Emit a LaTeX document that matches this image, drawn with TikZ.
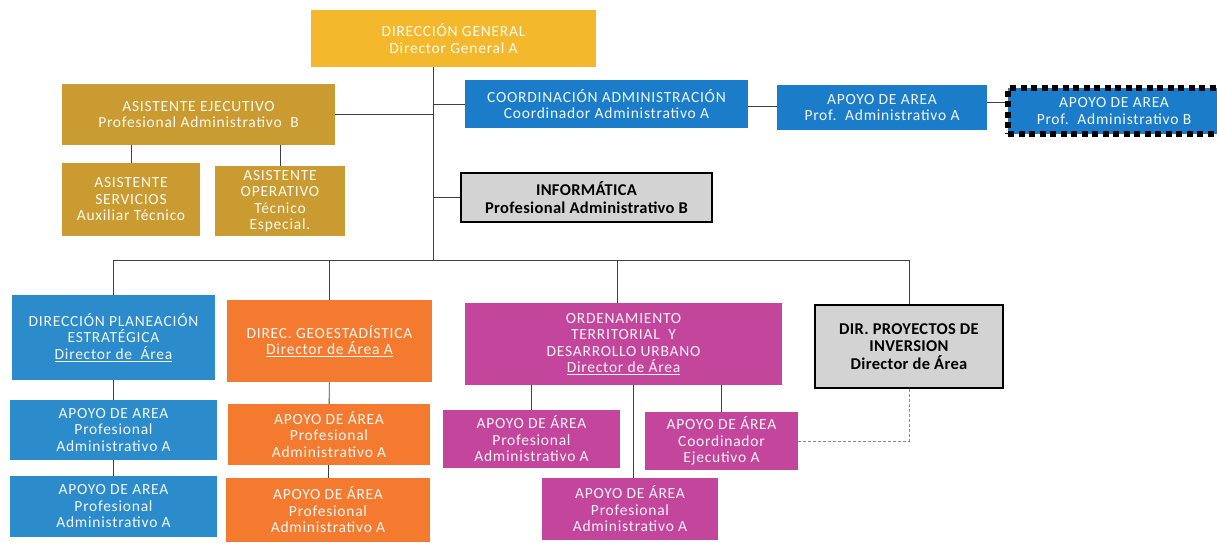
\documentclass[tikz,border=0pt]{standalone}
\usepackage{fontspec}
\setmainfont{Carlito}
\definecolor{dgcol}{HTML}{F4B82C}
\definecolor{goldcol}{HTML}{C99B30}
\definecolor{bluecol}{HTML}{1B7DCA}
\definecolor{plancol}{HTML}{2B8BCB}
\definecolor{orcol}{HTML}{F47A2F}
\definecolor{magcol}{HTML}{C4459C}
\definecolor{graycol}{HTML}{D3D3D3}
\begin{document}
\begin{tikzpicture}[x=1pt,y=-1pt,
  font=\fontsize{15.5}{16.5}\selectfont\addfontfeature{LetterSpace=5},
  box/.style={align=center,inner sep=1pt,text=white!94!#1,fill=#1},
  sz/.style 2 args={minimum width=#1,minimum height=#2},
  grbox/.style={align=center,inner sep=1pt,fill=graycol,draw=black,line width=1.2pt,
    font=\fontsize{16.5}{17.5}\selectfont\bfseries\addfontfeature{LetterSpace=2}},
  ln/.style={draw=black!75,line width=0.9pt}]
\useasboundingbox (0,0) rectangle (1217,542);
% top level
\node[box=dgcol,sz={285}{57}] (dg) at (453.5,38.5) {DIRECCIÓN GENERAL\\Director General A};
\node[box=goldcol,sz={273}{61}] (ae) at (198.5,114.5) {ASISTENTE EJECUTIVO\\Profesional Administrativo\ \ B};
\node[box=goldcol,sz={138}{73}] (as) at (131,199.5) {ASISTENTE\\SERVICIOS\\Auxiliar Técnico};
\node[box=goldcol,sz={130}{70}] (ao) at (280,201) {ASISTENTE\\OPERATIVO\\Técnico\\Especial.};
\node[box=bluecol,sz={283}{48}] (ca) at (606.5,104) {COORDINACIÓN ADMINISTRACIÓN\\Coordinador Administrativo A};
\node[box=bluecol,sz={210}{45}] (aa) at (882,107.5) {APOYO DE AREA\\Prof.\ \ Administrativo A};
\node[box=bluecol,sz={212}{46},draw=black,line width=6pt,dash pattern=on 6pt off 4.5pt] (ab) at (1114,111) {APOYO DE AREA\\Prof.\ \ Administrativo B};
\node[grbox,sz={251}{49}] (inf) at (586.5,197.5) {INFORMÁTICA\\Profesional Administrativo B};
\coordinate (bus) at (433,260);
% direcciones
\node[box=plancol,sz={203}{85}] (pl) at (113.5,337.5) {DIRECCIÓN PLANEACIÓN\\ESTRATÉGICA\\\underline{Director de\ \ Área}};
\node[box=orcol,sz={205}{82}] (geo) at (329.5,341) {DIREC. GEOESTADÍSTICA\\\underline{Director de Área A}};
\node[box=magcol,sz={317}{82}] (ord) at (623.5,344) {ORDENAMIENTO\\TERRITORIAL\ \ Y\\DESARROLLO URBANO\\\underline{Director de Área}};
\node[grbox,sz={188}{83}] (dp) at (909,346.5) {DIR. PROYECTOS DE\\INVERSION\\Director de Área};
% apoyos
\node[box=plancol,sz={207}{60}] (pl1) at (113.5,430) {APOYO DE AREA\\Profesional\\Administrativo A};
\node[box=plancol,sz={207}{61}] (pl2) at (113.5,506.5) {APOYO DE AREA\\Profesional\\Administrativo A};
\node[box=orcol,sz={202}{61}] (geo1) at (329,434.5) {APOYO DE ÁREA\\Profesional\\Administrativo A};
\node[box=orcol,sz={204}{64}] (geo2) at (328,510) {APOYO DE ÁREA\\Profesional\\Administrativo A};
\node[box=magcol,sz={177}{58}] (o1) at (531.5,439) {APOYO DE ÁREA\\Profesional\\Administrativo A};
\node[box=magcol,sz={153}{58}] (o2) at (721.5,441) {APOYO DE ÁREA\\Coordinador\\Ejecutivo A};
\node[box=magcol,sz={176}{62}] (o3) at (630,509) {APOYO DE ÁREA\\Profesional\\Administrativo A};
% lineas
\draw[ln] (dg.south -| bus) -- (bus);
\draw[ln] (ae.east) -- (ae.east -| bus);
\draw[ln] (ca.west) -- (ca.west -| bus);
\draw[ln] (inf.west) -- (inf.west -| bus);
\draw[ln] ([yshift=-2pt]ca.east) -- ([yshift=-2pt]ca.east -| aa.west);
\draw[ln] ([yshift=5pt]aa.east) -- ([yshift=5pt]aa.east -| ab.west);
\draw[ln] (ae.south -| as) -- (as.north);
\draw[ln] (ae.south -| ao) -- (ao.north);
\draw[ln] (pl.north |- bus) -- (dp.north |- bus);
\draw[ln] (pl.north |- bus) -- (pl.north) (geo.north |- bus) -- (geo.north);
\draw[ln] ([xshift=-6pt]ord.north |- bus) -- ([xshift=-6pt]ord.north) (dp.north |- bus) -- (dp.north);
\draw[ln] (pl) -- (pl1) (pl1) -- (pl2) (geo) -- (geo1) (geo1) -- (geo2);
\draw[ln] (o1.north) -- (o1.north |- ord.south) (o2.north) -- (o2.north |- ord.south);
\draw[ln] ([xshift=10pt]ord.south) -- ([xshift=10pt]ord.south |- o3.north);
\draw[black!45,line width=0.8pt,densely dashed] (dp.south) -- (dp.south |- o2.east) -- (o2.east);
\end{tikzpicture}
\end{document}
